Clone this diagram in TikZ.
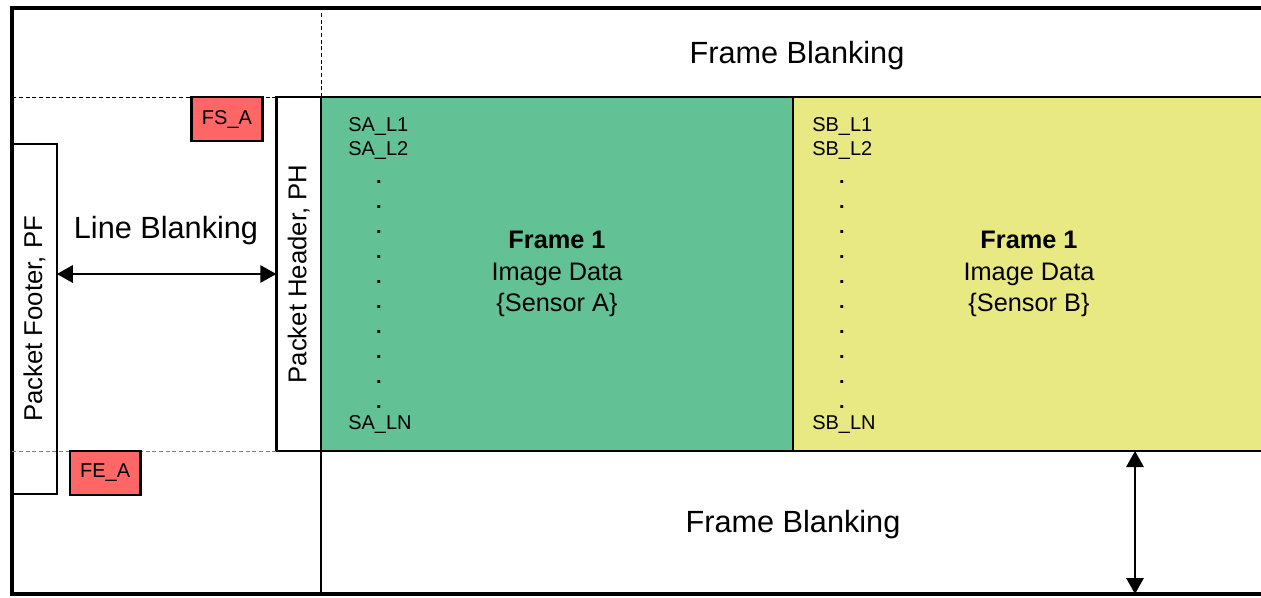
\documentclass[tikz,border=0pt]{standalone}
\usepackage{fontspec}
\setmainfont{Liberation Sans}
\usepackage{tikz}
\usetikzlibrary{arrows.meta, positioning, calc}
\definecolor{sensora}{RGB}{99,194,149}
\definecolor{sensorb}{RGB}{232,233,131}
\definecolor{markred}{RGB}{255,102,102}
\begin{document}
\begin{tikzpicture}[x=0.75pt, y=-0.75pt,
    border/.style={line width=3.6pt},
    box/.style={draw, line width=1.8pt, outer sep=0pt},
    frame/.style={box, minimum width=354pt, minimum height=265.5pt, align=center,
      font=\fontsize{19}{23.6}\selectfont},
    packet/.style={box, minimum width=33.5pt, inner sep=0pt, font=\fontsize{19.3}{22}\selectfont},
    marker/.style={box, fill=markred, minimum width=53pt, minimum height=33pt,
      inner sep=0pt, font=\fontsize{15}{18}\selectfont},
    rowlbl/.style={anchor=west, inner sep=0pt, font=\fontsize{15}{18}\selectfont},
    rowdot/.style={inner sep=0pt, font=\fontsize{15}{18}\selectfont\bfseries},
    big/.style={font=\fontsize{23}{27}\selectfont},
    guide/.style={dash pattern=on 3pt off 2pt, line width=0.75pt},
    dim/.style={{Triangle[length=12pt,width=13pt]}-{Triangle[length=12pt,width=13pt]}, line width=1.5pt}
  ]
    \clip (0,0) rectangle (1261,597);
    \coordinate (tl) at (12,8);
    \coordinate (br) at (1300,594);
    \draw[border] (tl) rectangle (br);

    % image data of both sensors
    \node[frame, fill=sensora] (fra) at (557,274) {\textbf{Frame 1}\\Image Data\\\{Sensor A\}};
    \node[frame, fill=sensorb, right=0pt of fra] (frb) {\textbf{Frame 1}\\Image Data\\\{Sensor B\}};

    % packet header and footer
    \node[packet, left=0pt of fra, minimum height=265.5pt] (ph) {\rotatebox{90}{Packet Header, PH}};
    \node[packet, minimum height=262.5pt] (pf) at (34.5,319) {\rotatebox{90}{Packet Footer, PF}};

    % guides
    \draw[guide] (ph.north west) -- (ph.north west -| tl);
    \draw[guide] (fra.north west) -- (fra.north west |- tl);
    \draw[guide, gray] (ph.south west) -- (ph.south west -| tl);
    \draw[box] (fra.south west) -- (fra.south west |- br);

    % frame start / end
    \node[marker, below left=0pt and 10.5pt of ph.north west] (fsa) {FS\_A};
    \coordinate (lbot) at (pf.east |- ph.south);
    \node[marker, below right=0pt and 9.75pt of lbot] (fea) {FE\_A};

    % blanking
    \node[big] (fbt) at (797,56) {Frame Blanking};
    \node[big] (fbb) at (793,525) {Frame Blanking};
    \node[big] (lbk) at (166,231) {Line Blanking};
    \draw[dim] (ph.west -| pf.east) -- (ph.west);
    \coordinate (fbot) at (1135,594);
    \draw[dim] (fbot |- frb.south) -- (fbot);

    % lines
    \node[rowlbl] (sal1) at (348,126) {SA\_L1};
    \node[rowlbl] (sal2) at (348,150) {SA\_L2};
    \node[rowlbl] (saln) at (348,424) {SA\_LN};
    \node[rowlbl] (sbl1) at (812,126) {SB\_L1};
    \node[rowlbl] (sbl2) at (812,150) {SB\_L2};
    \node[rowlbl] (sbln) at (812,424) {SB\_LN};
    \foreach \i in {0,...,9} {
      \node[rowdot] (sad\i) at (379,182+25*\i) {.};
      \node[rowdot] (sbd\i) at (842,182+25*\i) {.};
    }
  \end{tikzpicture}
\end{document}
